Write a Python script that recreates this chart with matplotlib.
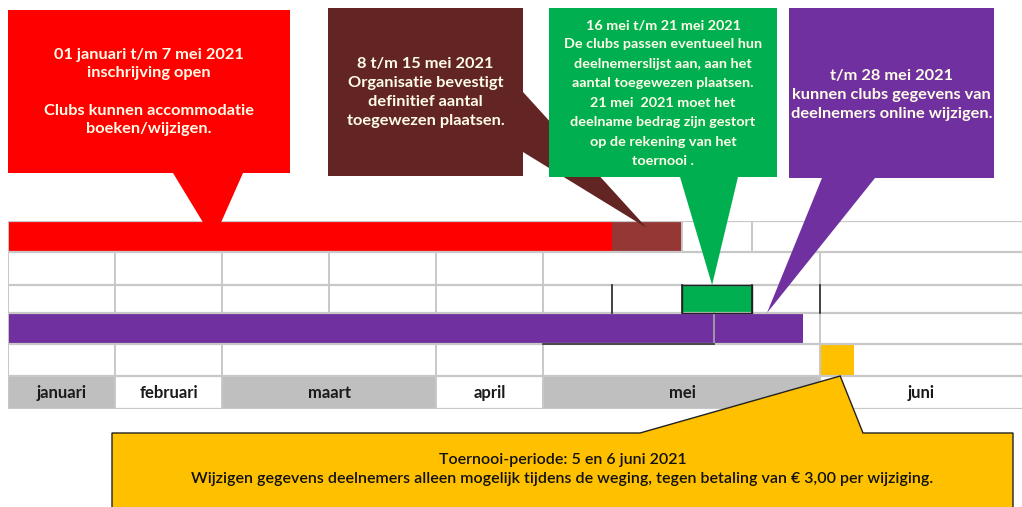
"""
Tijdlijn inschrijving toernooi 2021: Gantt-achtig schema met tekstballonnen.
"""

import matplotlib
matplotlib.use("Agg")
import matplotlib.pyplot as plt
import numpy as np
from matplotlib.patches import Rectangle, Polygon

plt.rcParams['font.family'] = ['Lato', 'DejaVu Sans']

# Data: sheet columns (jan, feb, mrt a, mrt b, apr, mei wk1..wk4, jun)
months = ['januari', 'februari', 'maart', 'april', 'mei', 'juni']
month_start = [0, 1, 2, 4, 5, 9]
month_end = [1, 2, 4, 5, 9, 10]

# bars: row, start column, end column
bar_rows = [0, 0, 2, 3, 3, 4]
bar_start = [0, 6, 7, 0, 7.46, 9]
bar_end = [6, 7, 8, 7.46, 8.75, 9.17]

# which column borders are visible in each row
row_borders = [[0, 7, 8], [0, 1, 2, 3, 4, 5, 9], [0, 1, 2, 3, 4, 5],
               [0, 9], [0, 1, 2, 4, 5, 9], [0, 1, 2, 4, 5, 9]]
dark_borders_row2 = [6, 7, 8, 9]

# pointer targets (column, row) for each callout
tip_cols = [1.92, 6.5, 7.43, 8.22, 9.1]
tip_rows = [0.6, 0.23, 2.0, 3.0, 5.0]

texts = [
    '01 januari t/m 7 mei 2021\ninschrijving open\n\nClubs kunnen accommodatie\nboeken/wijzigen.',
    '8 t/m 15 mei 2021\nOrganisatie bevestigt\ndefinitief aantal\ntoegewezen plaatsen.',
    '16 mei t/m 21 mei 2021\nDe clubs passen eventueel hun\ndeelnemerslijst aan, aan het\n'
    'aantal toegewezen plaatsen.\n21 mei  2021 moet het\ndeelname bedrag zijn gestort\n'
    'op de rekening van het\ntoernooi .',
    't/m 28 mei 2021\nkunnen clubs gegevens van\ndeelnemers online wijzigen.',
    'Toernooi-periode: 5 en 6 juni 2021\nWijzigen gegevens deelnemers alleen mogelijk tijdens de weging, '
    'tegen betaling van € 3,00 per wijziging.',
]

# Styling / layout (pixels of the 1022x507 canvas)
W, H = 1022, 507
col_px = [8, 115, 222, 329, 436, 543, 612, 682, 752, 820, 1022]
row_px = [221, 252, 285, 313, 344, 376, 409]
bar_colors = ['#FF0000', '#953735', '#00B050', '#7030A0', '#7030A0', '#FFC000']
month_fill = ['#BFBFBF', 'white', '#BFBFBF', 'white', '#BFBFBF', 'white']
grid_c = '#C8C8C8'

boxes = [(8, 10, 290, 173), (328, 8, 523, 176), (549, 8, 777, 177),
         (789, 8, 994, 178), (112, 433, 1013, 509)]
box_colors = ['#FF0000', '#632523', '#00B050', '#7030A0', '#FFC000']
pointer_bases = [((173, 173), (243, 173)), ((523, 92), (523, 152)),
                 ((680, 177), (738, 177)), ((822, 178), (875, 178)),
                 ((640, 433), (863, 433))]
text_sizes = [11.8, 11.8, 10.4, 11.8, 11.5]
text_spacing = [1.41, 1.45, 1.74, 1.45, 1.40]
text_y = [92, 92.5, 93, 95, 469.5]

fig = plt.figure(figsize=(W / 100, H / 100), dpi=100)

# grid axes with sheet-column scale
ax = fig.add_axes([col_px[0] / W, (H - row_px[-1]) / H,
                   (col_px[-1] - col_px[0]) / W, (row_px[-1] - row_px[0]) / H])
cols_idx = np.arange(len(col_px))
rows_idx = np.arange(len(row_px))
ax.set_xscale('function', functions=(lambda c: np.interp(c, cols_idx, col_px),
                                     lambda p: np.interp(p, col_px, cols_idx)))
ax.set_yscale('function', functions=(lambda r: np.interp(r, rows_idx, row_px),
                                     lambda p: np.interp(p, row_px, rows_idx)))
ax.set_xlim(0, 10)
ax.set_ylim(6, 0)
ax.axis('off')

# month row
for m, s, e, fc in zip(months, month_start, month_end, month_fill):
    ax.add_patch(Rectangle((s, 5), e - s, 1, facecolor=fc, edgecolor='none', zorder=1))
    ax.text((s + e) / 2 if m != 'mei' else 7.0, 5.5, m, ha='center', va='center',
            fontsize=12, fontweight='bold', color='#1A1A1A', zorder=5)

# bars
for r, s, e, c in zip(bar_rows, bar_start, bar_end, bar_colors):
    ax.add_patch(Rectangle((s, r), e - s, 1, facecolor=c, edgecolor='none', zorder=2))

# grid lines
for r in range(len(row_px)):
    ax.plot([0, 10], [r, r], color=grid_c, lw=1.6, zorder=3, solid_capstyle='butt')
for r, borders in enumerate(row_borders):
    for b in borders:
        ax.plot([b, b], [r, r + 1], color=grid_c, lw=1.4, zorder=3)
for b in dark_borders_row2:
    ax.plot([b, b], [2, 3], color='#222222', lw=1.2, zorder=4)
ax.plot([7.46, 7.46], [3, 4], color='#A9A9A9', lw=1.2, zorder=4)
ax.plot([5, 7.46], [4, 4], color='#333333', lw=1.2, zorder=4)
ax.plot([7, 8, 8, 7, 7], [2, 2, 3, 3, 2], color='#222222', lw=1.0, zorder=4)

# overlay for callouts
ov = fig.add_axes([0, 0, 1, 1], zorder=10)
ov.set_xlim(0, W)
ov.set_ylim(H, 0)
ov.axis('off')

fig.canvas.draw()
to_ov = ov.transData.inverted()
for i, (box, fc, base, tc, tr, txt) in enumerate(zip(boxes, box_colors, pointer_bases,
                                                   tip_cols, tip_rows, texts)):
    tip = to_ov.transform(ax.transData.transform((tc, tr)))
    x0, y0, x1, y1 = box
    if i == 4:
        (bx0, by), (bx1, _) = base
        verts = [(x0, y0), (bx0, by), tuple(tip), (bx1, by), (x1, y0), (x1, y1), (x0, y1)]
        ov.add_patch(Polygon(verts, closed=True, facecolor=fc, edgecolor='#222222', lw=1.0))
        ov.text((x0 + x1) / 2, text_y[i], txt, ha='center', va='center',
                fontsize=text_sizes[i], fontweight='semibold', color='#111111',
                linespacing=text_spacing[i])
    else:
        ov.add_patch(Rectangle((x0, y0), x1 - x0, y1 - y0, facecolor=fc, edgecolor='none'))
        ov.add_patch(Polygon([base[0], tuple(tip), base[1]], closed=True,
                             facecolor=fc, edgecolor='none'))
        ov.text((x0 + x1) / 2, text_y[i], txt, ha='center', va='center',
                fontsize=text_sizes[i], fontweight='bold', color='#FFFDE8',
                linespacing=text_spacing[i])

fig.savefig('out.png', dpi=100)
